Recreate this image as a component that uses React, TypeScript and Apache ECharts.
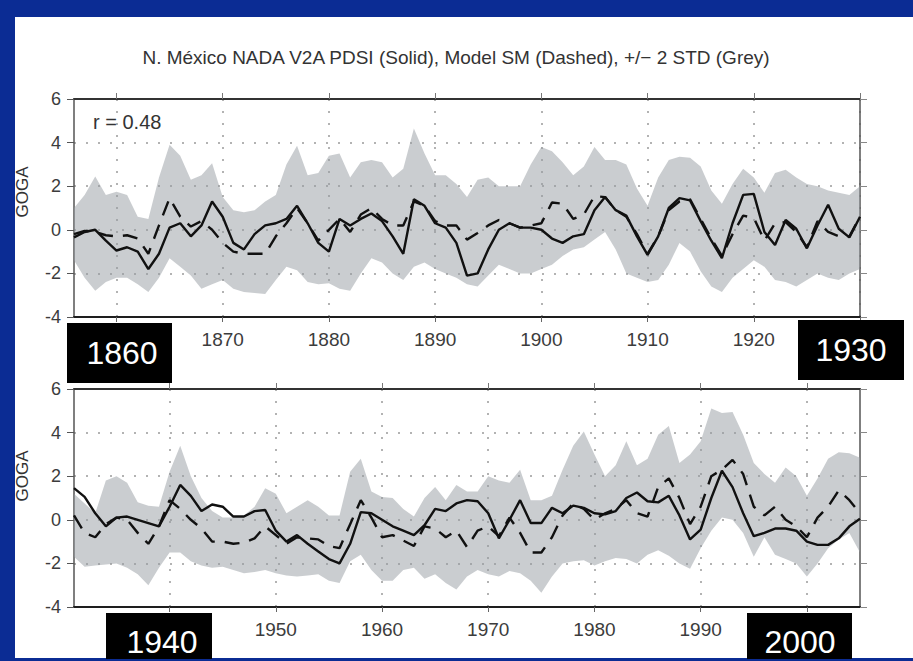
import React, { useEffect, useRef } from 'react';
import * as echarts from 'echarts';

// ---------- data ----------
const START_TOP = 1856;
const START_BOTTOM = 1931;

// 1856-1930
const pdsiTop = [
  -0.35, -0.1, 0.0, -0.5, -0.95, -0.8, -1.0, -1.8, -1.1, 0.1,
  0.3, -0.3, 0.2, 1.3, 0.6, -0.6, -0.9, -0.2, 0.2, 0.3,
  0.5, 1.1, 0.3, -0.6, -1.0, 0.5, 0.2, 0.5, 0.75, 0.4,
  -0.3, -1.1, 1.4, 1.1, 0.3, 0.1, -0.6, -2.1, -2.0, -0.9,
  0.0, 0.3, 0.1, 0.1, 0.0, -0.4, -0.6, -0.3, -0.2, 0.9,
  1.5, 0.9, 0.65, -0.3, -1.15, -0.3, 1.0, 1.45, 1.35, 0.4,
  -0.5, -1.3, 0.3, 1.6, 1.65, -0.1, -0.7, 0.45, 0.05, -0.85,
  0.2, 1.15, 0.05, -0.35, 0.6,
];
const modelTop = [
  -0.2, -0.05, -0.1, -0.25, -0.3, -0.25, -0.4, -1.1, 0.2, 1.45,
  0.6, 0.15, 0.4, 0.0, -0.6, -1.0, -1.1, -1.1, -1.1, -0.3,
  0.3, 1.0, 0.3, -0.5, 0.0, 0.5, -0.1, 0.7, 1.0, 0.5,
  0.2, 0.2, 1.3, 1.1, 0.4, 0.2, 0.2, -0.45, -0.15, 0.2,
  0.45, 0.3, 0.1, 0.2, 0.3, 1.25, 1.2, 0.5, 0.7, 1.55,
  1.5, 0.9, 0.6, -0.2, -1.1, -0.3, 0.9, 1.3, 1.4, 0.5,
  -0.4, -1.2, -0.2, 0.65, 0.55, -0.5, 0.3, 0.35, -0.1, -0.8,
  0.4, -0.1, -0.3, -0.3, 0.6,
];
const upperTop = [
  1.0, 1.6, 2.45, 1.6, 1.75, 1.6, 0.6, 0.5, 2.4, 3.9,
  3.4, 2.3, 2.5, 3.05, 1.5, 0.9, 0.8, 0.9, 1.3, 1.6,
  3.0, 3.85, 2.5, 2.6, 3.4, 3.5, 2.4, 3.1, 3.2, 3.1,
  2.4, 2.8, 4.65, 3.5, 2.5, 2.5, 2.1, 1.5, 2.3, 2.4,
  2.0, 2.0, 2.0, 3.0, 3.8, 3.6, 3.1, 2.5, 2.9, 3.8,
  3.2, 3.2, 3.0, 1.9, 1.1, 2.4, 3.2, 3.35, 3.3, 2.9,
  1.8, 1.2, 2.1, 2.8, 2.4, 1.7, 2.6, 2.75, 2.4, 2.1,
  2.0, 1.8, 1.7, 1.6, 2.0,
];
const lowerTop = [
  -1.4, -2.2, -2.8, -2.4, -2.2, -2.2, -2.5, -2.85, -2.2, -1.3,
  -1.7, -2.1, -2.7, -2.5, -2.3, -2.7, -2.85, -2.9, -2.95, -2.3,
  -1.7, -1.85, -2.4, -2.5, -2.45, -2.7, -2.8, -2.0, -1.3, -1.5,
  -2.0, -2.3, -1.7, -1.5, -1.8, -2.0, -2.2, -2.5, -2.6, -2.1,
  -1.6, -1.8, -2.0, -2.0, -1.8, -1.6, -1.2, -0.9, -0.8, -0.45,
  -0.1, -0.9, -2.0, -2.2, -2.4, -2.3, -1.6, -0.6, -1.0, -1.9,
  -2.6, -2.85, -2.2, -1.8, -1.4, -1.7, -2.3, -2.4, -2.6, -2.3,
  -2.0, -2.2, -2.3, -2.0, -1.8,
];

// 1931-2005
const pdsiBottom = [
  1.45, 1.05, 0.3, -0.3, 0.1, 0.15, 0.0, -0.15, -0.3, 0.6,
  1.6, 1.1, 0.4, 0.7, 0.6, 0.15, 0.15, 0.4, 0.45, -0.5,
  -1.0, -0.7, -1.1, -1.45, -1.8, -2.0, -1.1, 0.35, 0.3, 0.0,
  -0.3, -0.5, -0.7, -0.25, 0.5, 0.4, 0.75, 0.9, 0.85, 0.3,
  -0.85, 0.0, 0.9, -0.15, -0.15, 0.55, 0.3, 0.65, 0.55, 0.3,
  0.25, 0.4, 1.0, 1.25, 0.85, 0.8, 1.1, 0.2, -0.9, -0.45,
  1.0, 2.25, 1.5, 0.3, -0.75, -0.6, -0.4, -0.4, -0.5, -1.0,
  -1.15, -1.15, -0.85, -0.3, 0.05,
];
const modelBottom = [
  0.2, -0.6, -0.8, -0.2, 0.1, 0.0, -0.6, -1.1, -0.3, 0.9,
  0.5, 0.0, -0.4, -1.0, -1.0, -1.1, -1.05, -0.85, -0.3, -0.7,
  -1.1, -0.8, -0.85, -0.9, -1.2, -1.3, -0.2, 0.9, 0.1, -0.8,
  -0.7, -0.95, -1.2, -0.3, -0.4, -0.8, -0.5, -1.25, -0.5, -0.3,
  -0.75, 0.1, -0.6, -1.5, -1.5, -0.8, 0.2, 0.75, 0.5, 0.0,
  0.3, 0.5, 0.9, 0.3, 0.15, 1.5, 1.9, 1.0, -0.2, 0.6,
  2.0, 2.3, 2.75, 2.1, 0.6, 0.2, 0.6, 0.0, -0.3, -0.8,
  0.1, 0.6, 1.35, 0.9, 0.3,
];
const upperBottom = [
  1.2, 0.75, 0.3, 1.8, 2.0, 1.7, 0.8, 0.65, 0.6, 2.2,
  3.4, 2.0, 1.0, 0.4, 0.1, 0.1, 0.2, 0.6, 1.45, 1.2,
  0.3, 0.6, 0.9, 0.6, 0.2, 0.2, 2.2, 2.8, 1.3, 1.05,
  1.0, 0.5, 0.15, 1.0, 1.5, 0.9, 1.6, 1.3, 1.3, 2.0,
  1.8, 1.7, 2.3, 0.9, 0.9, 1.1, 2.3, 3.4, 4.05, 3.0,
  2.0, 2.5, 3.6, 2.5, 2.8, 3.9, 4.3, 2.6, 3.0, 3.6,
  5.1, 4.9, 4.95, 3.9, 2.6, 2.1, 1.7, 2.4, 2.0, 1.1,
  1.9, 2.8, 3.1, 3.05, 2.85,
];
const lowerBottom = [
  -1.7, -2.15, -2.1, -2.05, -2.0, -2.2, -2.5, -3.0, -2.2, -1.5,
  -1.5, -1.9, -2.1, -2.2, -2.15, -2.3, -2.45, -2.4, -2.3, -2.45,
  -2.55, -2.6, -2.55, -2.5, -2.8, -2.9, -1.9, -1.6, -2.3, -2.8,
  -2.8, -2.3, -2.2, -2.7, -2.5, -2.9, -3.2, -2.6, -2.3, -2.5,
  -2.6, -2.35, -2.45, -2.8, -3.35, -2.6, -2.0, -1.9, -1.85, -2.1,
  -1.9, -1.75, -1.8, -2.0, -1.6, -1.4, -1.65, -2.0, -2.25, -1.3,
  -0.5, 0.1, 0.0, -0.6, -1.7, -0.8, -1.6, -1.8, -2.0, -2.6,
  -2.0, -1.3, -0.9, -0.6, -1.5,
];

const yTicks = { min: -4, max: 6, interval: 2 };
const TITLE = 'N. México NADA V2A PDSI (Solid), Model SM (Dashed), +/− 2 STD (Grey)';
const CORR = 'r = 0.48';
const Y_NAME = 'GOGA';
const BOX_LABELS = ['1860', '1930', '1940', '2000'];

const yearsTop = pdsiTop.map((_, i) => String(START_TOP + i));
const yearsBottom = pdsiBottom.map((_, i) => String(START_BOTTOM + i));

const FONT = '"Liberation Sans", Arial, sans-serif';
const isDecade = (_i: number, v: string) => Number(v) % 10 === 0;
// tick labels that sit under the black year boxes are drawn by the boxes instead
const isShownLabel = (_i: number, v: string) => isDecade(_i, v) && !BOX_LABELS.includes(v);

function xAxesFor(gi: number, cats: string[]) {
  return [
    {
      type: 'category', gridIndex: gi, data: cats, boundaryGap: false, position: 'bottom',
      axisLine: { show: true, onZero: false, lineStyle: { color: '#1e1e1e', width: 2 } },
      axisTick: { show: true, interval: isDecade, length: 5, lineStyle: { color: '#666', width: 1 } },
      axisLabel: { show: true, interval: isShownLabel, margin: 13, fontSize: 19, color: '#3c3c3c', fontFamily: FONT },
      splitLine: { show: true, interval: isDecade, lineStyle: { color: '#9a9a9a', type: [2, 10], width: 1.5 } },
    },
    {
      type: 'category', gridIndex: gi, data: cats, boundaryGap: false, position: 'top',
      axisLine: { show: true, onZero: false, lineStyle: { color: '#333', width: 2 } },
      axisTick: { show: true, interval: isDecade, length: 6, lineStyle: { color: '#777', width: 1 } },
      axisLabel: { show: false },
      splitLine: { show: false },
    },
  ];
}

function yAxesFor(gi: number) {
  return [
    {
      type: 'value', gridIndex: gi, ...yTicks, position: 'left',
      axisLine: { show: true, onZero: false, lineStyle: { color: '#555', width: 1.5 } },
      axisTick: { show: true, length: 7, lineStyle: { color: '#555', width: 1 } },
      axisLabel: { margin: 13, fontSize: 18, color: '#3c3c3c', fontFamily: FONT },
      splitLine: { show: true, lineStyle: { color: '#9a9a9a', type: [2, 10], width: 1.5 } },
    },
    {
      type: 'value', gridIndex: gi, ...yTicks, position: 'right',
      axisLine: { show: true, onZero: false, lineStyle: { color: '#555', width: 1.5 } },
      axisTick: { show: true, length: 7, lineStyle: { color: '#888', width: 1 } },
      axisLabel: { show: false },
      splitLine: { show: false },
    },
  ];
}

function seriesFor(gi: number, pdsi: number[], model: number[], upper: number[], lower: number[]) {
  const ax = { xAxisIndex: gi * 2, yAxisIndex: gi * 2 };
  return [
    {
      type: 'line', ...ax, data: lower, stack: 'band' + gi, stackStrategy: 'all',
      symbol: 'none', silent: true, lineStyle: { width: 0, opacity: 0 }, z: 1,
    },
    {
      type: 'line', ...ax, data: upper.map((u, i) => +(u - lower[i]).toFixed(3)),
      stack: 'band' + gi, stackStrategy: 'all', symbol: 'none', silent: true,
      lineStyle: { width: 0, opacity: 0 },
      areaStyle: { color: 'rgba(150,155,162,0.5)', opacity: 1 }, z: 1,
    },
    {
      type: 'line', ...ax, data: model, symbol: 'none', silent: true,
      lineStyle: { color: '#111', width: 2.4, type: [15, 10] }, z: 3,
    },
    {
      type: 'line', ...ax, data: pdsi, symbol: 'none', silent: true,
      lineStyle: { color: '#111', width: 2.4 }, z: 4,
    },
  ];
}

function box(x: number, y: number, w: number, h: number, label: string, tx: number, ty: number) {
  return {
    type: 'group', z: 100,
    children: [
      { type: 'rect', shape: { x, y, width: w, height: h }, style: { fill: '#000' }, z: 100 },
      {
        type: 'text', x: tx, y: ty, z: 101,
        style: { text: label, fill: '#fff', fontSize: 32, fontFamily: FONT, align: 'center', verticalAlign: 'middle' },
      },
    ],
  };
}

export default function App() {
  const ref = useRef<HTMLDivElement>(null);
  useEffect(() => {
    if (!ref.current) return;
    const chart = echarts.init(ref.current, undefined, { renderer: 'svg' });
    chart.setOption({
      animation: false,
      backgroundColor: '#0b2c94',
      grid: [
        { left: 74, top: 99, width: 786, height: 218, containLabel: false },
        { left: 74, top: 389, width: 786, height: 218, containLabel: false },
      ],
      xAxis: [...xAxesFor(0, yearsTop), ...xAxesFor(1, yearsBottom)],
      yAxis: [...yAxesFor(0), ...yAxesFor(1)],
      series: [
        ...seriesFor(0, pdsiTop, modelTop, upperTop, lowerTop),
        ...seriesFor(1, pdsiBottom, modelBottom, upperBottom, lowerBottom),
      ],
      graphic: [
        { type: 'rect', shape: { x: 15, y: 17, width: 898, height: 641 }, style: { fill: '#ffffff' }, z: -10, silent: true },
        {
          type: 'text', x: 456, y: 57, z: 50,
          style: { text: TITLE, fill: '#333', fontSize: 19, fontFamily: FONT, align: 'center', verticalAlign: 'middle' },
        },
        {
          type: 'text', x: 93, y: 122, z: 50,
          style: { text: CORR, fill: '#333', fontSize: 20, fontFamily: FONT, align: 'left', verticalAlign: 'middle' },
        },
        {
          type: 'text', x: 22, y: 192, rotation: Math.PI / 2, z: 50,
          style: { text: Y_NAME, fill: '#333', fontSize: 17, fontFamily: FONT, align: 'center', verticalAlign: 'middle' },
        },
        {
          type: 'text', x: 22, y: 476, rotation: Math.PI / 2, z: 50,
          style: { text: Y_NAME, fill: '#333', fontSize: 17, fontFamily: FONT, align: 'center', verticalAlign: 'middle' },
        },
        box(67, 323, 105, 60, BOX_LABELS[0], 122, 353),
        box(798, 320, 106, 60, BOX_LABELS[1], 851, 350),
        box(106, 613, 106, 46, BOX_LABELS[2], 162, 642),
        box(747, 613, 105, 46, BOX_LABELS[3], 800, 642),
      ],
    });
    return () => chart.dispose();
  }, []);
  return <div ref={ref} style={{ position: 'fixed', left: 0, top: 0, width: 913, height: 661 }} />;
}
